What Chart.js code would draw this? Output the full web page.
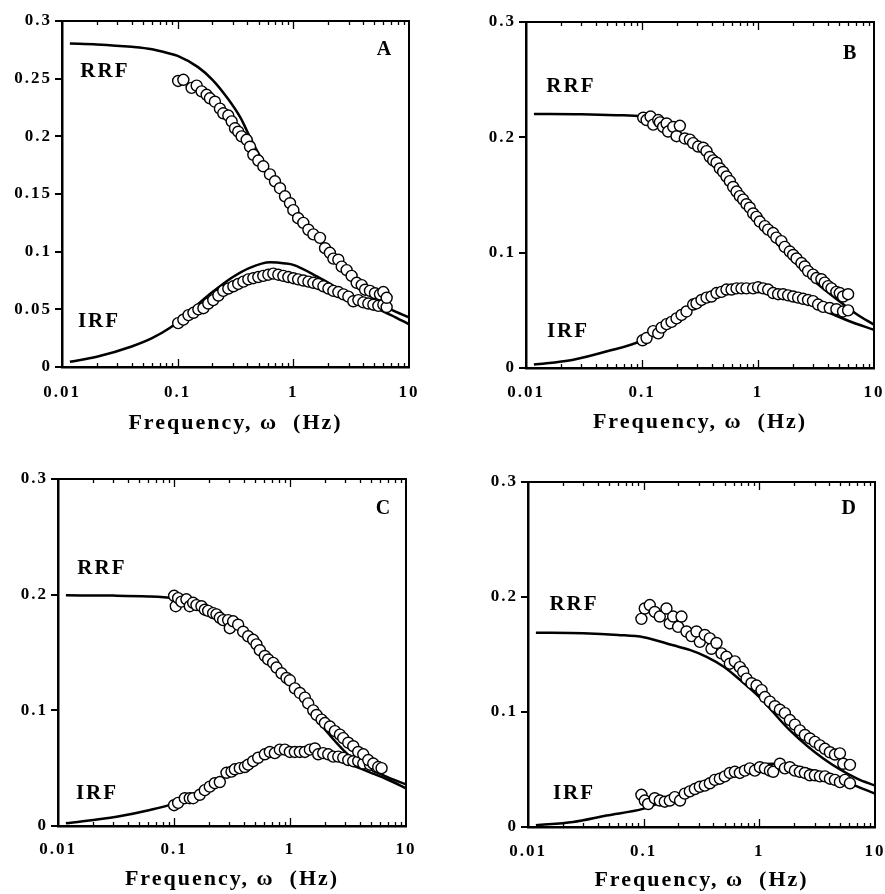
<!DOCTYPE html>
<html>
<head>
<meta charset="utf-8">
<script src="https://cdn.jsdelivr.net/npm/chart.js@4.4.1/dist/chart.umd.min.js"></script>
<style>
  html, body { margin: 0; padding: 0; background: #fff; }
  body { width: 885px; height: 894px; position: relative; overflow: hidden; }
  canvas { position: absolute; }
</style>
</head>
<body>
<canvas id="panelA" width="440" height="440" style="left:0;top:0"></canvas>
<canvas id="panelB" width="445" height="440" style="left:440px;top:0"></canvas>
<canvas id="panelC" width="440" height="454" style="left:0;top:440px"></canvas>
<canvas id="panelD" width="445" height="454" style="left:440px;top:440px"></canvas>
<script>
  // axis ticks
  const xTicks = [0.01, 0.1, 1, 10];
  const yTicksA = [0, 0.05, 0.1, 0.15, 0.2, 0.25, 0.3];
  const yTicksOther = [0, 0.1, 0.2, 0.3];
  const xTitle = 'Frequency, ω  (Hz)';

  // Panel A - measured points
  const aRrfF = [0.101, 0.112, 0.132, 0.146, 0.161, 0.178, 0.19, 0.21, 0.232, 0.248, 0.274, 0.293, 0.313, 0.334, 0.357, 0.395, 0.422, 0.451, 0.498, 0.55, 0.628, 0.694, 0.767, 0.847, 0.936, 1.0, 1.1, 1.22, 1.35, 1.49, 1.7, 1.88, 2.07, 2.22, 2.45, 2.62, 2.89, 3.19, 3.53, 3.9, 4.17, 4.6, 5.08, 5.61, 6.0, 6.41];
  const aRrf = [0.248, 0.249, 0.242, 0.244, 0.239, 0.236, 0.233, 0.23, 0.224, 0.22, 0.218, 0.213, 0.207, 0.204, 0.2, 0.197, 0.191, 0.184, 0.179, 0.174, 0.167, 0.161, 0.155, 0.148, 0.142, 0.136, 0.129, 0.125, 0.119, 0.115, 0.112, 0.103, 0.099, 0.094, 0.093, 0.087, 0.084, 0.079, 0.073, 0.071, 0.067, 0.066, 0.064, 0.063, 0.065, 0.06];
  const aIrfF = [0.101, 0.112, 0.124, 0.137, 0.151, 0.167, 0.184, 0.203, 0.225, 0.248, 0.274, 0.303, 0.334, 0.37, 0.408, 0.451, 0.498, 0.55, 0.608, 0.671, 0.742, 0.82, 0.905, 1.0, 1.1, 1.22, 1.35, 1.49, 1.64, 1.82, 2.01, 2.22, 2.45, 2.71, 2.99, 3.3, 3.65, 4.03, 4.45, 4.92, 5.43, 6.0, 6.41];
  const aIrf = [0.038, 0.041, 0.045, 0.047, 0.05, 0.051, 0.055, 0.058, 0.062, 0.066, 0.068, 0.07, 0.072, 0.074, 0.076, 0.077, 0.078, 0.079, 0.08, 0.081, 0.08, 0.079, 0.078, 0.077, 0.076, 0.075, 0.074, 0.073, 0.072, 0.07, 0.068, 0.066, 0.065, 0.063, 0.061, 0.057, 0.058, 0.056, 0.055, 0.054, 0.053, 0.054, 0.052];
  // Panel A - fitted curves
  const aRrfFitF = [0.0117, 0.02, 0.04, 0.06, 0.08, 0.1, 0.15, 0.2, 0.27, 0.35, 0.42, 0.52, 0.7, 1, 1.5, 2, 3, 5, 7, 10];
  const aRrfFit = [0.2805, 0.2797, 0.2776, 0.2755, 0.2725, 0.2697, 0.26, 0.249, 0.233, 0.216, 0.1996, 0.182, 0.16, 0.14, 0.116, 0.1, 0.08, 0.059, 0.05, 0.043];
  const aIrfFitF = [0.0117, 0.02, 0.04, 0.06, 0.086, 0.1, 0.156, 0.2, 0.3, 0.42, 0.63, 0.85, 1, 1.6, 3, 5, 7, 10];
  const aIrfFit = [0.0046, 0.0089, 0.0178, 0.025, 0.034, 0.039, 0.056, 0.065, 0.078, 0.086, 0.0908, 0.0898, 0.0885, 0.0785, 0.063, 0.052, 0.045, 0.037];

  // Panel B
  const bRrfF = [0.1025, 0.1095, 0.1185, 0.125, 0.138, 0.1426, 0.152, 0.163, 0.168, 0.186, 0.1985, 0.212, 0.234, 0.2586, 0.276, 0.305, 0.337, 0.36, 0.384, 0.411, 0.439, 0.469, 0.501, 0.535, 0.572, 0.611, 0.653, 0.697, 0.745, 0.796, 0.85, 0.908, 0.97, 1.036, 1.145, 1.223, 1.35, 1.44, 1.59, 1.7, 1.88, 2.01, 2.15, 2.37, 2.53, 2.7, 2.98, 3.19, 3.52, 3.76, 4.02, 4.3, 4.74, 5.07, 5.41, 5.98];
  const bRrf = [0.217, 0.215, 0.218, 0.211, 0.215, 0.213, 0.209, 0.212, 0.205, 0.209, 0.201, 0.21, 0.199, 0.198, 0.195, 0.192, 0.191, 0.188, 0.183, 0.18, 0.178, 0.173, 0.17, 0.166, 0.162, 0.157, 0.153, 0.149, 0.146, 0.142, 0.139, 0.134, 0.131, 0.127, 0.123, 0.12, 0.117, 0.113, 0.11, 0.105, 0.101, 0.098, 0.095, 0.091, 0.088, 0.084, 0.081, 0.078, 0.077, 0.074, 0.071, 0.069, 0.066, 0.065, 0.062, 0.064];
  const bIrfF = [0.1011, 0.1095, 0.125, 0.138, 0.1474, 0.163, 0.1798, 0.1985, 0.2193, 0.242, 0.276, 0.295, 0.326, 0.36, 0.397, 0.439, 0.4845, 0.535, 0.591, 0.653, 0.7205, 0.796, 0.908, 1.002, 1.107, 1.223, 1.35, 1.491, 1.647, 1.818, 2.01, 2.217, 2.447, 2.7, 2.98, 3.296, 3.64, 4.154, 4.74, 5.41, 5.98];
  const bIrf = [0.024, 0.026, 0.032, 0.03, 0.035, 0.038, 0.04, 0.043, 0.046, 0.049, 0.055, 0.056, 0.059, 0.061, 0.062, 0.065, 0.066, 0.068, 0.068, 0.069, 0.069, 0.069, 0.069, 0.07, 0.069, 0.068, 0.065, 0.064, 0.064, 0.063, 0.062, 0.061, 0.06, 0.059, 0.058, 0.055, 0.053, 0.052, 0.051, 0.049, 0.05];
  const bRrfFitF = [0.0117, 0.03, 0.06, 0.1, 0.15, 0.2, 0.3, 0.45, 0.7, 1, 1.4, 2, 3, 5, 7, 10];
  const bRrfFit = [0.2203, 0.22, 0.2192, 0.218, 0.213, 0.206, 0.191, 0.172, 0.148, 0.1285, 0.11, 0.093, 0.076, 0.058, 0.047, 0.0375];
  const bIrfFitF = [0.0117, 0.025, 0.05, 0.1, 0.186, 0.36, 0.7, 1, 1.9, 3.6, 6, 10];
  const bIrfFit = [0.003, 0.007, 0.0145, 0.024, 0.042, 0.059, 0.068, 0.0684, 0.0635, 0.0505, 0.041, 0.033];

  // Panel C
  const cRrfF = [0.1002, 0.1036, 0.1085, 0.1159, 0.128, 0.1368, 0.1462, 0.1562, 0.1725, 0.1843, 0.197, 0.2175, 0.2324, 0.2483, 0.2652, 0.293, 0.3028, 0.3236, 0.3574, 0.3947, 0.4358, 0.4815, 0.5143, 0.5495, 0.6068, 0.6484, 0.7161, 0.7651, 0.8453, 0.9335, 0.9973, 1.101, 1.216, 1.344, 1.435, 1.586, 1.694, 1.871, 2.0, 2.208, 2.439, 2.693, 2.877, 3.178, 3.51, 3.875, 4.281, 4.728, 5.22, 5.765, 6.16];
  const cRrf = [0.199, 0.19, 0.197, 0.194, 0.196, 0.19, 0.193, 0.191, 0.19, 0.187, 0.186, 0.184, 0.183, 0.18, 0.178, 0.178, 0.171, 0.177, 0.174, 0.168, 0.164, 0.161, 0.157, 0.152, 0.147, 0.144, 0.141, 0.137, 0.132, 0.128, 0.126, 0.119, 0.115, 0.111, 0.106, 0.1, 0.096, 0.092, 0.089, 0.086, 0.082, 0.079, 0.076, 0.072, 0.069, 0.064, 0.062, 0.057, 0.054, 0.051, 0.05];
  const cIrfF = [0.1002, 0.1085, 0.1239, 0.1368, 0.1462, 0.1668, 0.1843, 0.2035, 0.2247, 0.2483, 0.2835, 0.3131, 0.3344, 0.3694, 0.4079, 0.4358, 0.4815, 0.5317, 0.6068, 0.6703, 0.7403, 0.8176, 0.903, 0.9973, 1.101, 1.216, 1.344, 1.484, 1.639, 1.751, 1.934, 2.136, 2.359, 2.606, 2.877, 3.178, 3.51, 3.875, 4.281, 4.889, 5.58];
  const cIrf = [0.018, 0.02, 0.024, 0.024, 0.024, 0.027, 0.031, 0.034, 0.037, 0.038, 0.046, 0.047, 0.049, 0.05, 0.051, 0.053, 0.056, 0.059, 0.062, 0.064, 0.063, 0.066, 0.066, 0.064, 0.064, 0.064, 0.064, 0.066, 0.067, 0.062, 0.063, 0.062, 0.06, 0.06, 0.059, 0.057, 0.056, 0.056, 0.054, 0.053, 0.051];
  const cRrfFitF = [0.0117, 0.03, 0.06, 0.1, 0.15, 0.2, 0.32, 0.45, 0.63, 1, 1.7, 3.3, 5, 7, 10];
  const cRrfFit = [0.1994, 0.1992, 0.1985, 0.197, 0.194, 0.189, 0.174, 0.16, 0.1437, 0.1235, 0.092, 0.06, 0.049, 0.042, 0.036];
  const cIrfFitF = [0.0117, 0.032, 0.062, 0.1, 0.166, 0.32, 0.63, 1, 1.7, 3.3, 5, 7, 10];
  const cIrfFit = [0.0023, 0.008, 0.0138, 0.0196, 0.0297, 0.047, 0.06, 0.0643, 0.0629, 0.053, 0.046, 0.04, 0.0326];

  // Panel D
  const dRrfF = [0.0956, 0.1022, 0.1129, 0.1247, 0.1378, 0.1574, 0.1682, 0.1798, 0.1986, 0.2123, 0.2345, 0.259, 0.2861, 0.3058, 0.3378, 0.3733, 0.3858, 0.4263, 0.4709, 0.5202, 0.5559, 0.6142, 0.6787, 0.7253, 0.7751, 0.8562, 0.9458, 1.045, 1.117, 1.234, 1.363, 1.506, 1.663, 1.837, 2.03, 2.242, 2.477, 2.737, 3.023, 3.34, 3.69, 4.076, 4.503, 4.975, 5.316, 6.073];
  const dRrf = [0.181, 0.19, 0.193, 0.187, 0.183, 0.19, 0.177, 0.183, 0.174, 0.183, 0.17, 0.166, 0.17, 0.161, 0.167, 0.164, 0.155, 0.16, 0.151, 0.148, 0.142, 0.144, 0.139, 0.135, 0.129, 0.125, 0.123, 0.119, 0.113, 0.109, 0.105, 0.102, 0.099, 0.093, 0.089, 0.084, 0.08, 0.077, 0.074, 0.071, 0.068, 0.065, 0.063, 0.064, 0.055, 0.054];
  const dIrfF = [0.0956, 0.1022, 0.1093, 0.1247, 0.1378, 0.1522, 0.1682, 0.1858, 0.2063, 0.2268, 0.2506, 0.2769, 0.3058, 0.3378, 0.3733, 0.4123, 0.4555, 0.5031, 0.5559, 0.6142, 0.6787, 0.7496, 0.8281, 0.915, 1.011, 1.117, 1.234, 1.318, 1.506, 1.663, 1.837, 2.03, 2.242, 2.477, 2.737, 3.023, 3.34, 3.69, 4.076, 4.503, 4.975, 5.495, 6.073];
  const dIrf = [0.028, 0.023, 0.02, 0.025, 0.023, 0.022, 0.023, 0.026, 0.023, 0.029, 0.031, 0.033, 0.035, 0.036, 0.038, 0.041, 0.042, 0.044, 0.047, 0.048, 0.047, 0.049, 0.051, 0.049, 0.052, 0.051, 0.049, 0.048, 0.055, 0.051, 0.052, 0.049, 0.048, 0.047, 0.045, 0.045, 0.044, 0.044, 0.042, 0.041, 0.039, 0.041, 0.038];
  const dRrfFitF = [0.0117, 0.03, 0.06, 0.1, 0.18, 0.25, 0.35, 0.5, 0.68, 1, 1.84, 3.57, 7, 10];
  const dRrfFit = [0.169, 0.1685, 0.167, 0.165, 0.158, 0.154, 0.148, 0.139, 0.128, 0.113, 0.084, 0.0595, 0.042, 0.036];
  const dIrfFitF = [0.0117, 0.0245, 0.0476, 0.1, 0.18, 0.35, 0.68, 1.32, 1.84, 3.57, 6, 10];
  const dIrfFit = [0.0015, 0.0044, 0.01, 0.016, 0.026, 0.0407, 0.0508, 0.055, 0.0537, 0.0465, 0.038, 0.029];

  const SERIF = '"Liberation Serif", "Times New Roman", serif';

  function pairs(xs, ys) {
    return xs.map((x, i) => ({ x: x, y: ys[i] }));
  }

  // frame, inward log ticks and in-plot labels
  const decorPlugin = {
    id: 'decor',
    beforeLayout(chart) { chart.ctx.letterSpacing = '2px'; },
    beforeDraw(chart) { chart.ctx.letterSpacing = '2px'; },
    afterDraw(chart, args, opts) {
      const ctx = chart.ctx;
      const a = chart.chartArea;
      const xs = chart.scales.x, ys = chart.scales.y;
      ctx.save();
      ctx.strokeStyle = '#000';
      ctx.lineWidth = 2;
      ctx.beginPath();
      ctx.moveTo(a.left, a.top);
      ctx.lineTo(a.right, a.top);
      ctx.lineTo(a.right, a.bottom);
      ctx.stroke();

      ctx.lineWidth = 1.3;
      ctx.beginPath();
      [0.01, 0.1, 1].forEach(dec => {
        for (let m = 1; m <= 9; m++) {
          const v = dec * m;
          if (v <= 0.01) continue;
          const px = Math.round(xs.getPixelForValue(v)) + 0.5;
          const len = m === 1 ? 8 : 4;
          ctx.moveTo(px, a.bottom);
          ctx.lineTo(px, a.bottom - len);
          ctx.moveTo(px, a.top);
          ctx.lineTo(px, a.top + len);
        }
      });
      ctx.stroke();

      ctx.fillStyle = '#000';
      ctx.textAlign = 'center';
      ctx.textBaseline = 'middle';
      opts.labels.forEach(l => {
        ctx.font = 'bold ' + l.size + 'px ' + SERIF;
        ctx.fillText(l.text, xs.getPixelForValue(l.x), ys.getPixelForValue(l.y));
      });
      ctx.restore();
    }
  };

  function makePanel(p) {
    const canvas = document.getElementById(p.id);
    const tickFont = { family: SERIF, size: 17, weight: 'bold' };
    return new Chart(canvas, {
      type: 'scatter',
      data: {
        datasets: [
          { type: 'line', data: pairs(p.rrfFitF, p.rrfFit), borderColor: '#000', borderWidth: 2.5, pointRadius: 0, cubicInterpolationMode: 'monotone', order: 2 },
          { type: 'line', data: pairs(p.irfFitF, p.irfFit), borderColor: '#000', borderWidth: 2.5, pointRadius: 0, cubicInterpolationMode: 'monotone', order: 2 },
          { data: pairs(p.irfF, p.irf), pointRadius: 5.5, pointBackgroundColor: '#fff', pointBorderColor: '#000', pointBorderWidth: 1.4, order: 1 },
          { data: pairs(p.rrfF, p.rrf), pointRadius: 5.5, pointBackgroundColor: '#fff', pointBorderColor: '#000', pointBorderWidth: 1.4, order: 0 }
        ]
      },
      options: {
        responsive: false,
        animation: false,
        devicePixelRatio: 1,
        layout: { padding: { top: p.box.top, right: p.box.right, left: 0, bottom: 0 } },
        plugins: {
          legend: { display: false },
          tooltip: { enabled: false },
          decor: { labels: p.labels }
        },
        scales: {
          x: {
            type: 'logarithmic',
            min: 0.01,
            max: 10,
            afterBuildTicks: s => { s.ticks = xTicks.map(v => ({ value: v })); },
            afterFit: s => { s.height = p.box.bottom; s.paddingLeft = 0; s.paddingRight = 0; },
            grid: { display: false },
            border: { color: '#000', width: 2.5 },
            ticks: { callback: v => String(v), font: tickFont, color: '#000', padding: p.box.xPad, maxRotation: 0, autoSkip: false },
            title: { display: true, text: xTitle, color: '#000', font: { family: SERIF, size: 22, weight: 'bold' }, padding: { top: 0, bottom: p.box.titlePad } }
          },
          y: {
            min: 0,
            max: 0.3,
            afterBuildTicks: s => { s.ticks = p.yTicks.map(v => ({ value: v })); },
            afterFit: s => { s.width = p.box.left; s.paddingTop = 0; s.paddingBottom = 0; },
            grid: { drawOnChartArea: false, drawTicks: true, tickLength: 7, lineWidth: 2, color: '#000' },
            border: { color: '#000', width: 2.5 },
            ticks: { callback: v => String(v), font: tickFont, color: '#000', padding: 3 }
          }
        }
      },
      plugins: [decorPlugin]
    });
  }

  window.addEventListener('DOMContentLoaded', () => {
    makePanel({
      id: 'panelA', yTicks: yTicksA,
      rrfF: aRrfF, rrf: aRrf, irfF: aIrfF, irf: aIrf,
      rrfFitF: aRrfFitF, rrfFit: aRrfFit, irfFitF: aIrfFitF, irfFit: aIrfFit,
      box: { top: 21, right: 31, left: 62, bottom: 73, xPad: 7, titlePad: 3 },
      labels: [
        { text: 'RRF', x: 0.0235, y: 0.2558, size: 21 },
        { text: 'IRF', x: 0.0209, y: 0.039, size: 21 },
        { text: 'A', x: 6.2, y: 0.275, size: 20 }
      ]
    });
    makePanel({
      id: 'panelB', yTicks: yTicksOther,
      rrfF: bRrfF, rrf: bRrf, irfF: bIrfF, irf: bIrf,
      rrfFitF: bRrfFitF, rrfFit: bRrfFit, irfFitF: bIrfFitF, irfFit: bIrfFit,
      box: { top: 22, right: 11, left: 86, bottom: 72, xPad: 6, titlePad: 4 },
      labels: [
        { text: 'RRF', x: 0.0244, y: 0.2436, size: 21 },
        { text: 'IRF', x: 0.023, y: 0.032, size: 21 },
        { text: 'B', x: 6.3, y: 0.2727, size: 20 }
      ]
    });
    makePanel({
      id: 'panelC', yTicks: yTicksOther,
      rrfF: cRrfF, rrf: cRrf, irfF: cIrfF, irf: cIrf,
      rrfFitF: cRrfFitF, rrfFit: cRrfFit, irfFitF: cIrfFitF, irfFit: cIrfFit,
      box: { top: 39, right: 34, left: 58, bottom: 68, xPad: 5, titlePad: 1 },
      labels: [
        { text: 'RRF', x: 0.0239, y: 0.2226, size: 21 },
        { text: 'IRF', x: 0.0217, y: 0.0277, size: 21 },
        { text: 'C', x: 6.45, y: 0.274, size: 20 }
      ]
    });
    makePanel({
      id: 'panelD', yTicks: yTicksOther,
      rrfF: dRrfF, rrf: dRrf, irfF: dIrfF, irf: dIrf,
      rrfFitF: dRrfFitF, rrfFit: dRrfFit, irfFitF: dIrfFitF, irfFit: dIrfFit,
      box: { top: 42, right: 10, left: 88, bottom: 67, xPad: 6, titlePad: 0 },
      labels: [
        { text: 'RRF', x: 0.025, y: 0.193, size: 21 },
        { text: 'IRF', x: 0.025, y: 0.029, size: 21 },
        { text: 'D', x: 6.05, y: 0.2765, size: 20 }
      ]
    });
  });
</script>
</body>
</html>
